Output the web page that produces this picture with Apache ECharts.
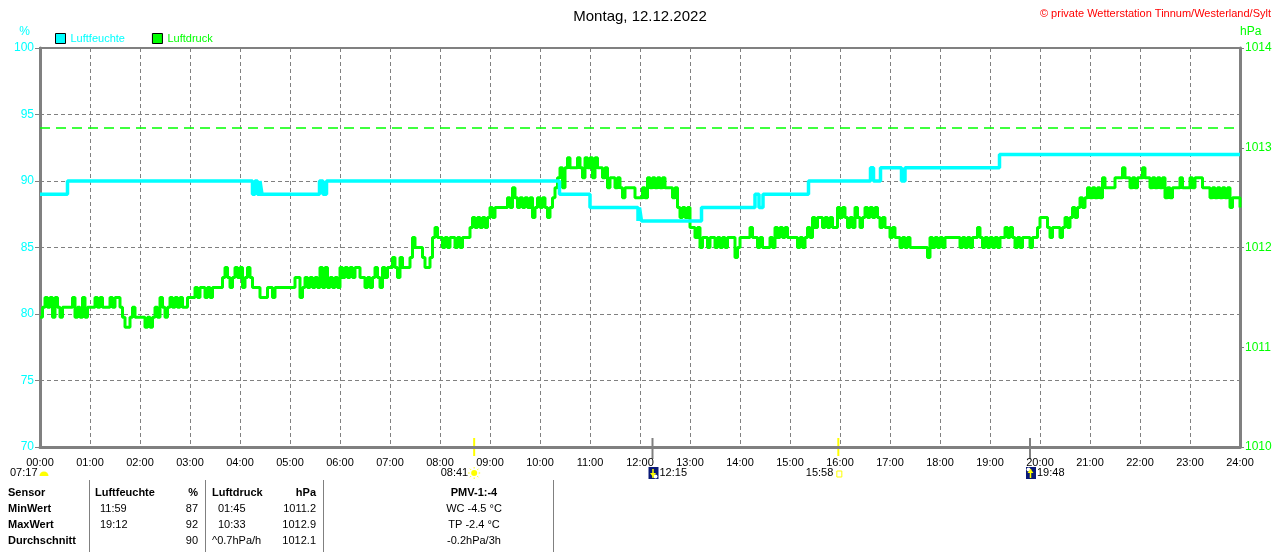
<!DOCTYPE html>
<html>
<head>
<meta charset="utf-8">
<script src="https://cdn.jsdelivr.net/npm/echarts@6/dist/echarts.min.js"></script>
<style>html,body{margin:0;padding:0;background:#fff}#c{width:1280px;height:552px}</style>
</head>
<body>
<div id="c"></div>
<script>
// ---------- data ----------
const titleText = 'Montag, 12.12.2022';
const copyrightText = '© private Wetterstation Tinnum/Westerland/Sylt';
const hourLabels = ['00:00','01:00','02:00','03:00','04:00','05:00','06:00','07:00','08:00','09:00','10:00','11:00','12:00','13:00','14:00','15:00','16:00','17:00','18:00','19:00','20:00','21:00','22:00','23:00','24:00'];

// humidity (%) step changes: time (h) -> new value
const humTimes  = [0, 0.55, 4.25, 4.30, 4.35, 4.40, 4.44, 5.59, 5.66, 5.73, 10.39, 11.00, 11.96, 11.99, 12.03, 13.23, 14.30, 14.38, 14.46, 15.37, 16.61, 16.67, 16.81, 17.23, 17.30, 19.19, 24];
const humValues = [89, 90, 89, 90, 89, 90, 89, 90, 89, 90, 89, 88, 87, 88, 87, 88, 89, 88, 89, 90, 91, 90, 91, 90, 91, 92, 92];

// pressure (hPa), one reading every 3 minutes from 00:00 to 24:00
const pressureStepMin = 3;
const pressure = [
 1011.3,1011.4,1011.5,1011.4,1011.5,1011.3,1011.5,1011.4,1011.3,1011.4,1011.4,1011.4,1011.4,1011.5,1011.3,1011.4,1011.3,1011.5,1011.3,1011.4,
 1011.4,1011.4,1011.5,1011.4,1011.5,1011.4,1011.4,1011.4,1011.5,1011.4,1011.5,1011.5,1011.4,1011.3,1011.2,1011.2,1011.3,1011.4,1011.3,1011.3,
 1011.3,1011.3,1011.2,1011.3,1011.2,1011.3,1011.4,1011.3,1011.5,1011.4,1011.3,1011.4,1011.5,1011.4,1011.5,1011.4,1011.5,1011.4,1011.4,1011.5,
 1011.5,1011.5,1011.6,1011.5,1011.6,1011.6,1011.5,1011.6,1011.5,1011.6,1011.6,1011.6,1011.6,1011.7,1011.8,1011.7,1011.6,1011.7,1011.8,1011.7,
 1011.8,1011.6,1011.7,1011.8,1011.7,1011.6,1011.6,1011.6,1011.5,1011.5,1011.5,1011.6,1011.6,1011.5,1011.6,1011.6,1011.6,1011.6,1011.6,1011.6,
 1011.6,1011.6,1011.7,1011.7,1011.5,1011.6,1011.7,1011.6,1011.7,1011.6,1011.7,1011.6,1011.8,1011.6,1011.8,1011.6,1011.7,1011.6,1011.7,1011.6,
 1011.8,1011.7,1011.8,1011.7,1011.8,1011.7,1011.8,1011.8,1011.7,1011.7,1011.6,1011.7,1011.6,1011.7,1011.8,1011.7,1011.6,1011.8,1011.7,1011.8,
 1011.8,1011.9,1011.8,1011.7,1011.9,1011.8,1011.8,1011.8,1011.9,1012.1,1012.0,1012.0,1012.0,1011.9,1011.8,1011.8,1011.9,1012.1,1012.2,1012.1,
 1012.1,1012.0,1012.1,1012.0,1012.1,1012.1,1012.0,1012.1,1012.0,1012.1,1012.1,1012.1,1012.2,1012.3,1012.2,1012.3,1012.2,1012.3,1012.2,1012.3,
 1012.4,1012.3,1012.4,1012.4,1012.4,1012.4,1012.4,1012.5,1012.4,1012.6,1012.5,1012.4,1012.5,1012.4,1012.5,1012.4,1012.5,1012.3,1012.4,1012.5,
 1012.4,1012.5,1012.4,1012.3,1012.4,1012.5,1012.6,1012.7,1012.8,1012.6,1012.8,1012.9,1012.8,1012.8,1012.8,1012.9,1012.8,1012.7,1012.9,1012.8,
 1012.9,1012.7,1012.9,1012.8,1012.8,1012.7,1012.8,1012.6,1012.7,1012.7,1012.6,1012.7,1012.6,1012.5,1012.6,1012.6,1012.6,1012.6,1012.5,1012.5,
 1012.5,1012.6,1012.5,1012.7,1012.6,1012.7,1012.6,1012.7,1012.6,1012.7,1012.6,1012.6,1012.6,1012.5,1012.6,1012.4,1012.3,1012.4,1012.3,1012.4,
 1012.2,1012.2,1012.1,1012.2,1012.0,1012.1,1012.1,1012.0,1012.1,1012.1,1012.0,1012.1,1012.0,1012.1,1012.0,1012.1,1012.1,1012.1,1011.9,1012.0,
 1012.1,1012.1,1012.1,1012.1,1012.2,1012.1,1012.1,1012.0,1012.1,1012.0,1012.0,1012.0,1012.1,1012.0,1012.2,1012.1,1012.2,1012.1,1012.2,1012.1,
 1012.1,1012.1,1012.1,1012.0,1012.1,1012.0,1012.1,1012.2,1012.1,1012.3,1012.2,1012.3,1012.3,1012.2,1012.3,1012.2,1012.3,1012.2,1012.2,1012.4,
 1012.3,1012.4,1012.3,1012.2,1012.3,1012.2,1012.4,1012.3,1012.2,1012.3,1012.4,1012.3,1012.4,1012.3,1012.4,1012.3,1012.2,1012.3,1012.2,1012.2,
 1012.1,1012.2,1012.1,1012.1,1012.0,1012.1,1012.0,1012.1,1012.0,1012.0,1012.0,1012.0,1012.0,1012.0,1012.0,1011.9,1012.1,1012.0,1012.1,1012.0,
 1012.1,1012.0,1012.1,1012.1,1012.1,1012.1,1012.1,1012.1,1012.0,1012.1,1012.0,1012.1,1012.0,1012.1,1012.1,1012.2,1012.1,1012.0,1012.1,1012.0,
 1012.1,1012.0,1012.1,1012.0,1012.1,1012.1,1012.2,1012.1,1012.2,1012.1,1012.0,1012.1,1012.0,1012.1,1012.1,1012.1,1012.0,1012.1,1012.1,1012.2,
 1012.3,1012.3,1012.3,1012.2,1012.1,1012.2,1012.2,1012.2,1012.1,1012.2,1012.3,1012.2,1012.3,1012.4,1012.3,1012.4,1012.5,1012.4,1012.5,1012.6,
 1012.5,1012.6,1012.5,1012.6,1012.5,1012.7,1012.6,1012.6,1012.6,1012.6,1012.7,1012.7,1012.7,1012.8,1012.7,1012.7,1012.6,1012.7,1012.6,1012.7,
 1012.7,1012.8,1012.7,1012.7,1012.6,1012.7,1012.6,1012.7,1012.6,1012.7,1012.5,1012.6,1012.5,1012.6,1012.6,1012.6,1012.7,1012.6,1012.6,1012.6,
 1012.7,1012.6,1012.7,1012.7,1012.7,1012.6,1012.6,1012.6,1012.5,1012.6,1012.5,1012.6,1012.5,1012.6,1012.5,1012.6,1012.4,1012.5,1012.5,1012.5,
 1012.4
];
const pressureRefLine = 1013.2;

// astronomical events shown under the time axis
const dawnTime = '07:17';
const eventTimes = ['08:41', '12:15', '15:58', '19:48'];
const eventKinds = ['sunrise', 'moonset', 'sunset', 'moonrise'];

// statistics table
const tableHeader = ['Sensor', 'Luftfeuchte', '%', 'Luftdruck', 'hPa', 'PMV-1:-4'];
const rowNames   = ['MinWert', 'MaxWert', 'Durchschnitt'];
const humTimeCol = ['11:59', '19:12', ''];
const humValCol  = ['87', '92', '90'];
const presTimeCol= ['01:45', '10:33', '^0.7hPa/h'];
const presValCol = ['1011.2', '1012.9', '1012.1'];
const extraCol   = ['WC -4.5 °C', 'TP -2.4 °C', '-0.2hPa/3h'];

// ---------- chart ----------
const CYAN = '#00ffff', GREEN = '#00ff00', GREY = '#808080', YEL = '#ffff00', NAVY = '#0a1a78';
const FONT = 'Liberation Sans, Arial, sans-serif';

const humData = humTimes.map((t, i) => [t, humValues[i]]);
const presData = pressure.map((v, i) => [i * pressureStepMin / 60, v]);

const chart = echarts.init(document.getElementById('c'), null, {renderer: 'canvas'});
const option = {
  animation: false,
  backgroundColor: '#ffffff',
  textStyle: {fontFamily: FONT},
  title: [
    {text: titleText, left: 'center', top: 4, textStyle: {fontSize: 15, fontWeight: 'normal', color: '#000', fontFamily: FONT}},
    {text: copyrightText, right: 4, top: 3, textStyle: {fontSize: 11, fontWeight: 'normal', color: '#ff0000', fontFamily: FONT}}
  ],
  legend: {
    left: 50, top: 28, itemWidth: 10, itemHeight: 10, itemGap: 27, icon: 'rect',
    textStyle: {fontSize: 11, fontFamily: FONT},
    data: [
      {name: 'Luftfeuchte', itemStyle: {color: CYAN, borderColor: '#000', borderWidth: 1}, textStyle: {color: CYAN}},
      {name: 'Luftdruck', itemStyle: {color: GREEN, borderColor: '#000', borderWidth: 1}, textStyle: {color: GREEN}}
    ]
  },
  grid: {left: 40, right: 40, top: 48, bottom: 105, show: true, borderColor: GREY, borderWidth: 2, backgroundColor: 'transparent'},
  xAxis: {
    type: 'value', min: 0, max: 24, interval: 1,
    axisLine: {show: true, lineStyle: {color: GREY, width: 3}},
    axisTick: {show: false},
    axisLabel: {color: '#000', fontSize: 11, margin: 10, formatter: v => hourLabels[v]},
    splitLine: {show: true, lineStyle: {color: GREY, width: 1, type: [4, 3]}}
  },
  yAxis: [
    {
      type: 'value', min: 70, max: 100, interval: 5, position: 'left',
      name: '%', nameLocation: 'end', nameGap: 10,
      nameTextStyle: {color: CYAN, fontSize: 12, align: 'right', padding: [0, 10, 0, 0]},
      axisLine: {show: true, lineStyle: {color: GREY, width: 3}},
      axisTick: {show: true, length: 5, lineStyle: {color: GREY, width: 1}},
      axisLabel: {color: CYAN, fontSize: 12, margin: 6, formatter: v => String(v)},
      splitLine: {show: true, lineStyle: {color: GREY, width: 1, type: [4, 3]}}
    },
    {
      type: 'value', min: 1010, max: 1014, interval: 1, position: 'right',
      name: 'hPa', nameLocation: 'end', nameGap: 10,
      nameTextStyle: {color: GREEN, fontSize: 12, align: 'left', padding: [0, 0, 0, 0]},
      axisLine: {show: true, lineStyle: {color: GREY, width: 3}},
      axisTick: {show: true, length: 4, lineStyle: {color: GREY, width: 1}},
      axisLabel: {color: GREEN, fontSize: 12, margin: 5, formatter: v => String(v)},
      splitLine: {show: false}
    }
  ],
  series: [
    {
      name: 'Luftdruck', type: 'line', yAxisIndex: 1, step: 'end', data: presData,
      showSymbol: false, symbol: 'none', color: GREEN,
      lineStyle: {color: GREEN, width: 3}, z: 2,
      markLine: {
        silent: true, symbol: 'none', label: {show: false},
        lineStyle: {color: GREEN, width: 1.5, type: [10, 6]},
        data: [{yAxis: pressureRefLine}]
      }
    },
    {
      name: 'Luftfeuchte', type: 'line', yAxisIndex: 0, step: 'end', data: humData,
      showSymbol: false, symbol: 'none', color: CYAN,
      lineStyle: {color: CYAN, width: 3.5}, z: 3
    }
  ]
};
chart.setOption(option);

// ---------- annotations under the axis and table ----------
function toHours(t) { const p = t.split(':').map(Number); return p[0] + p[1] / 60; }
const axisY = chart.convertToPixel({yAxisIndex: 0}, 70);
const rowY = axisY + 26;
const g = [];
const txt = (x, y, s, o) => g.push({type: 'text', x: x, y: y, silent: true,
  style: Object.assign({text: s, fill: '#000', font: '11px ' + FONT, textVerticalAlign: 'middle', textAlign: 'left'}, o || {})});
const line = (x1, y1, x2, y2, color, w) => g.push({type: 'line', silent: true, shape: {x1, y1, x2, y2}, style: {stroke: color, lineWidth: w}});

function sunIcon(cx, cy) {
  g.push({type: 'circle', silent: true, shape: {cx, cy, r: 3}, style: {fill: YEL}});
  for (let k = 0; k < 8; k++) {
    const a = k * Math.PI / 4;
    line(cx + Math.cos(a) * 4.5, cy + Math.sin(a) * 4.5, cx + Math.cos(a) * 6, cy + Math.sin(a) * 6, YEL, 1);
  }
}
function moonIcon(x, y, up) {
  g.push({type: 'rect', silent: true, shape: {x: x, y: y, width: 10, height: 12}, style: {fill: NAVY}});
  g.push({type: 'circle', silent: true, shape: {cx: up ? x + 2.5 : x + 7, cy: up ? y + 2.5 : y + 9.5, r: 2}, style: {fill: '#ffffff'}});
  const ax = x + 4.5;
  line(ax, y + 2, ax, y + 11, YEL, 1.5);
  if (up) g.push({type: 'polygon', silent: true, shape: {points: [[ax - 3, y + 6], [ax + 3, y + 6], [ax, y + 2]]}, style: {fill: YEL}});
  else g.push({type: 'polygon', silent: true, shape: {points: [[ax - 3, y + 6], [ax + 3, y + 6], [ax, y + 10]]}, style: {fill: YEL}});
}

// dawn label at the left edge
txt(10, rowY, dawnTime);
g.push({type: 'sector', silent: true, shape: {cx: 44, cy: rowY + 3, r0: 0, r: 4.5, startAngle: Math.PI, endAngle: 2 * Math.PI}, style: {fill: YEL}});

eventTimes.forEach((t, i) => {
  const x = chart.convertToPixel({xAxisIndex: 0}, toHours(t));
  const kind = eventKinds[i];
  if (kind === 'sunrise') {
    line(x, axisY - 9, x, axisY + 9, YEL, 2);
    txt(x - 6, rowY, t, {textAlign: 'right'});
    sunIcon(x, rowY);
  } else if (kind === 'sunset') {
    line(x, axisY - 9, x, axisY + 9, YEL, 2);
    txt(x - 5, rowY, t, {textAlign: 'right'});
    g.push({type: 'rect', silent: true, shape: {x: x - 1.5, y: rowY - 2, width: 5, height: 6}, style: {fill: 'none', stroke: YEL, lineWidth: 1}});
  } else {
    line(x, axisY - 9, x, axisY + 12, GREY, 2);
    moonIcon(x - 4, rowY - 6, kind === 'moonrise');
    txt(x + 7, rowY, t);
  }
});

// table
const tTop = axisY + 33;
[89, 205, 323, 553].forEach(x => line(x + 0.5, tTop, x + 0.5, 552, GREY, 1));
const bold = {font: 'bold 11px ' + FONT};
const yRows = [493, 509, 525, 541];
txt(8, yRows[0], tableHeader[0], bold);
txt(95, yRows[0], tableHeader[1], bold);
txt(198, yRows[0], tableHeader[2], Object.assign({textAlign: 'right'}, bold));
txt(212, yRows[0], tableHeader[3], bold);
txt(316, yRows[0], tableHeader[4], Object.assign({textAlign: 'right'}, bold));
txt(474, yRows[0], tableHeader[5], Object.assign({textAlign: 'center'}, bold));
rowNames.forEach((n, r) => {
  const y = yRows[r + 1];
  txt(8, y, n, bold);
  txt(100, y, humTimeCol[r]);
  txt(198, y, humValCol[r], {textAlign: 'right'});
  txt(r === 2 ? 212 : 218, y, presTimeCol[r]);
  txt(316, y, presValCol[r], {textAlign: 'right'});
  txt(474, y, extraCol[r], {textAlign: 'center'});
});

chart.setOption({graphic: g});
</script>
</body>
</html>
